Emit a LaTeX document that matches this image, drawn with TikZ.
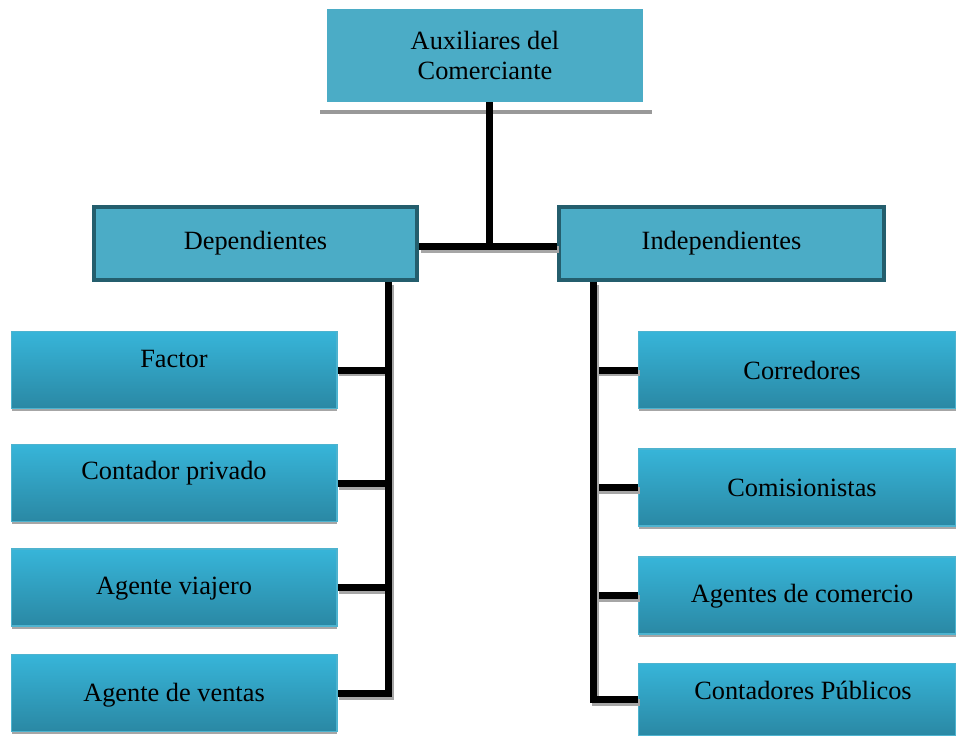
\documentclass[tikz,border=0pt]{standalone}
\usepackage{fontspec}
\setmainfont{Liberation Serif}
\usetikzlibrary{calc, shadows}

\definecolor{auxfill}{HTML}{4BACC6}
\definecolor{auxdark}{HTML}{245E6D}
\definecolor{boxtop}{HTML}{37B5D9}
\definecolor{boxbot}{HTML}{2A88A4}
\definecolor{boxline}{HTML}{4DB3CF}

\tikzset{
	boxfont/.style = {font = \fontsize{15}{17.5}\selectfont},
	head/.style = {fill = auxfill, inner sep = 0pt, align = center, boxfont},
	group/.style = {head, draw = auxdark, line width = 0.08cm, minimum height = 1.46cm},
	item/.style = {top color = boxtop, bottom color = boxbot, draw = boxline, line width = 0.6pt,
		inner sep = 0pt, minimum height = 1.54cm,
		drop shadow = {shadow xshift = 0.01cm, shadow yshift = -0.06cm, fill = black!35, opacity = 1}},
	itemtext/.style = {boxfont, inner sep = 0pt},
	tie/.style = {line width = 0.14cm, line join = miter},
	tieshade/.style = {tie, black!35, transform canvas = {xshift = 0.04cm, yshift = -0.06cm}}
}

\begin{document}
\begin{tikzpicture}[x = 0.02cm, y = -0.02cm]
	\useasboundingbox (0,0) rectangle (956,736);

	% top
	\node[head, minimum width = 6.32cm, minimum height = 1.86cm] (aux) at (485,55.5) {Auxiliares del\\Comerciante};
	\draw[black!40, line width = 0.07cm] (320,112) -- (652,112);

	% the two groups
	\node[group, minimum width = 6.46cm] (dep) at (255.5,243.5) {Dependientes};
	\node[group, minimum width = 6.5cm] (indep) at (721.5,243.5) {Independientes};

	\coordinate (lspine) at (388,282);
	\coordinate (rspine) at (593,282);
	\coordinate (join) at (489,247);

	% left column (name/text/y/text offset)
	\foreach \n/\t/\y/\dy in {factor/Factor/370/0.22, contador/Contador privado/483/0.2,
			viajero/Agente viajero/587.5/-0.02, ventas/Agente de ventas/693/-0.04}
		\node[item, minimum width = 6.52cm, label = {[itemtext, yshift = \dy cm]center:\t}] (\n) at (174,\y) {};

	% right column
	\foreach \n/\t/\y/\dy in {corredores/Corredores/370/0, comisionistas/Comisionistas/487.5/0,
			agentes/Agentes de comercio/595.5/-0.02}
		\node[item, minimum width = 6.36cm, label = {[itemtext, xshift = 0.1cm, yshift = \dy cm]center:\t}] (\n) at (797,\y) {};
	\node[item, minimum width = 6.36cm, minimum height = 1.44cm,
		label = {[itemtext, xshift = 0.12cm, yshift = 0.18cm]center:Contadores Públicos}] (publicos) at (797,699.5) {};

	% connectors
	\draw[tieshade] (dep.east |- join) -- (indep.west |- join);
	\draw[tie] (dep.east |- join) -- (indep.west |- join);
	\draw[tie] (join |- aux.south) -- (join);

	\foreach \n in {factor, contador, viajero} {
		\draw[tieshade] (\n.east) -- (\n.east -| lspine);
		\draw[tie] (\n.east) -- (\n.east -| lspine);
	}
	\draw[tieshade] (lspine) |- (ventas.east);
	\draw[tie] (lspine) |- (ventas.east);

	\foreach \n in {corredores, comisionistas, agentes} {
		\draw[tieshade] (\n.west -| rspine) -- (\n.west);
		\draw[tie] (\n.west -| rspine) -- (\n.west);
	}
	\draw[tieshade] (rspine) |- (publicos.west);
	\draw[tie] (rspine) |- (publicos.west);
\end{tikzpicture}
\end{document}
